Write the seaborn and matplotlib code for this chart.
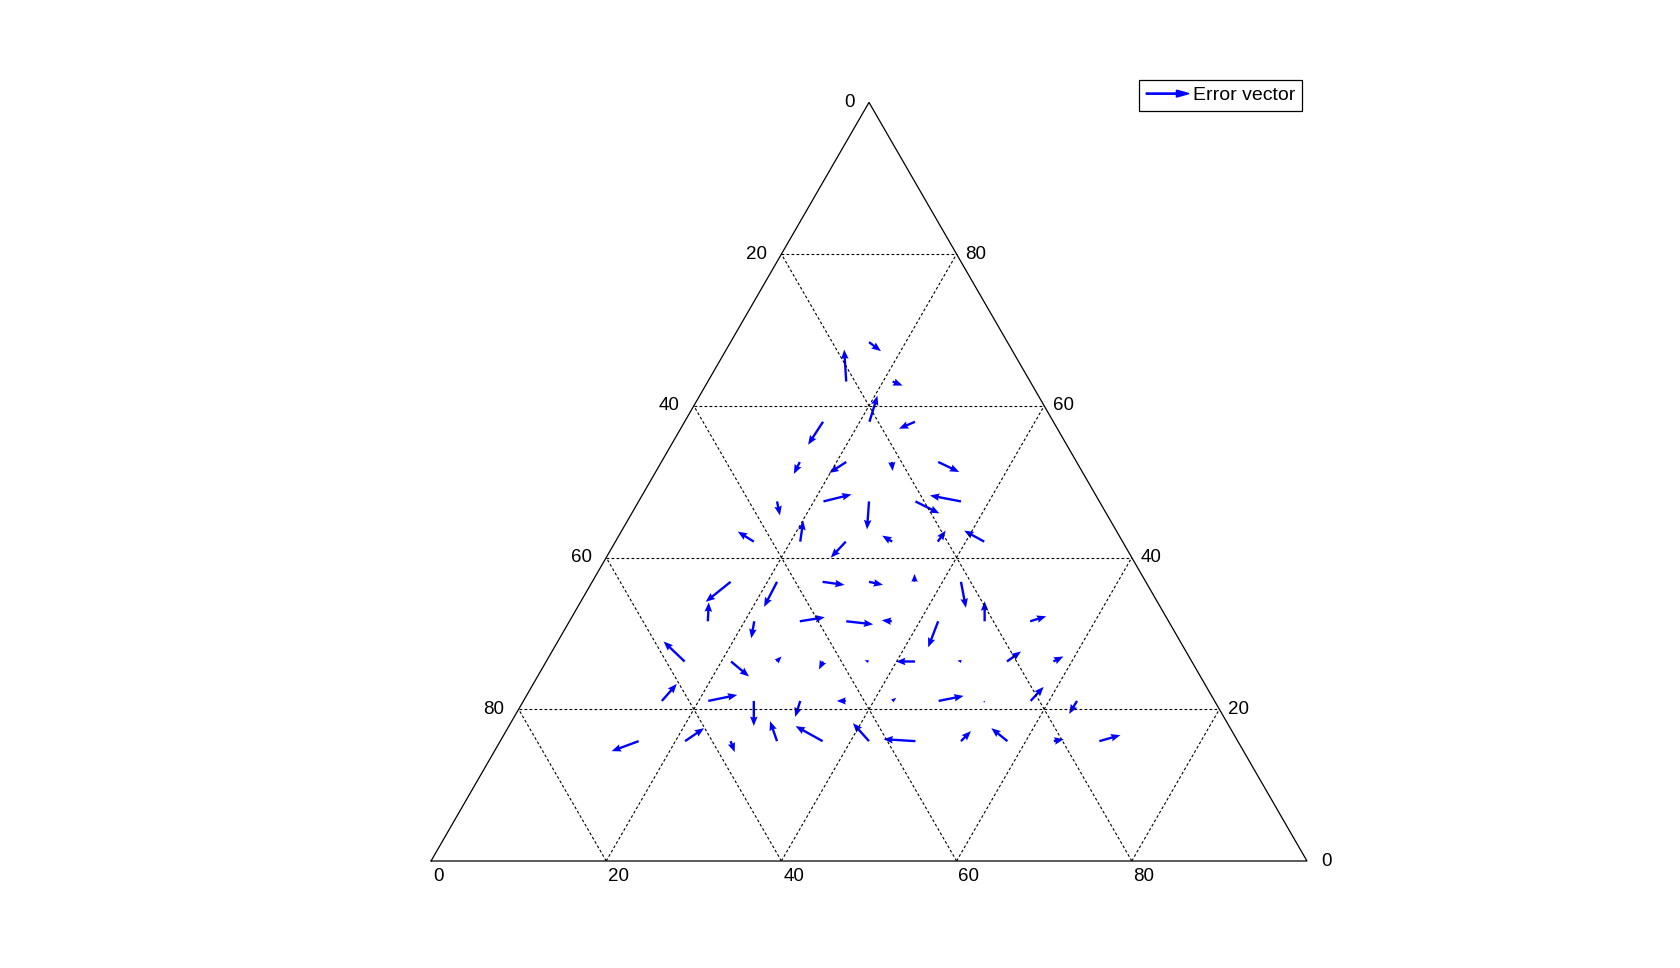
import numpy as np
import pandas as pd
import matplotlib
matplotlib.use("Agg")
import matplotlib.pyplot as plt
import seaborn as sns
from matplotlib.patches import FancyArrow
from matplotlib.legend_handler import HandlerBase
from matplotlib.lines import Line2D

# ==========================================
# Data (ternary coordinates in %)
# tail position: bottom-axis component, right-axis component
# error vector: change of those two components
# ==========================================
tail_bottom = [15.8, 15.8, 21.1, 21.1, 26.3, 15.8, 15.8, 21.1, 26.3, 31.6,
               21.1, 36.8, 31.6, 15.8, 26.3, 21.1, 31.6, 36.8, 42.1, 26.3,
               15.8, 26.3, 31.6, 36.8, 42.1, 15.8, 15.8, 21.1, 26.3, 31.6,
               36.8, 21.1, 42.1, 47.4, 52.6, 15.8, 21.1, 26.3, 31.6, 36.8,
               42.1, 47.4, 52.6, 57.9, 15.8, 21.1, 36.8, 42.1, 47.4, 31.6,
               26.3, 52.6, 57.9, 63.2, 31.6, 36.8, 42.1, 47.4, 52.6, 21.1,
               26.3, 57.9, 63.2, 68.4, 15.8]
tail_right = [63.2, 68.4, 63.2, 57.9, 57.9, 57.9, 52.6, 52.6, 52.6, 52.6,
              47.4, 47.4, 47.4, 47.4, 47.4, 42.1, 42.1, 42.1, 42.1, 42.1,
              42.1, 36.8, 36.8, 36.8, 36.8, 36.8, 31.6, 36.8, 31.6, 31.6,
              31.6, 31.6, 31.6, 31.6, 31.6, 26.3, 26.3, 26.3, 26.3, 26.3,
              26.3, 26.3, 26.3, 26.3, 21.1, 21.1, 21.1, 21.1, 21.1, 21.1,
              21.1, 21.1, 21.1, 21.1, 15.8, 15.8, 15.8, 15.8, 15.8, 15.8,
              15.8, 15.8, 15.8, 15.8, 15.8]
err_bottom = [-2.34, 1.96, 1.40, -0.80, -1.37, -0.19, 0.11, -1.21, 0.70, 3.06,
              2.74, -3.94, 3.53, 1.26, 1.62, -1.04, -1.54, 0.18, -3.01, -0.66,
              -2.49, 2.71, 1.80, -0.53, 2.28, -1.53, -1.14, 0.17, 2.59, 3.28,
              -1.21, 0.78, 0.57, -1.32, 1.50, -3.72, 3.04, 0.24, 0.07, -0.52,
              -2.17, -0.52, 0.94, 0.81, 0.59, 2.91, -1.03, 0.26, 2.52, 0.48,
              1.65, 0.13, 0.56, -0.05, -2.12, -4.07, -3.02, -3.78, 0.48, 1.31,
              1.19, -2.69, 1.01, 2.00, -2.42]
err_right = [4.22, -1.19, -0.53, 3.43, -0.92, -3.03, -1.58, -1.45, -1.19, -1.32,
             0.92, 0.79, -1.58, -1.85, -3.69, 2.77, 0.79, 1.45, 1.45, -2.11,
             1.32, -0.40, -0.40, 1.05, -3.43, -2.64, 2.50, -3.30, 0.53, -0.40,
             0.13, -2.24, -3.43, 2.64, 0.66, 2.64, -1.98, 0.66, -1.05, 0.13,
             0.00, 0.13, 1.32, 0.66, 2.24, 0.79, 0.00, 0.40, 0.66, -2.11,
             -3.30, -0.26, 1.85, -1.71, 2.64, 1.98, 2.37, 0.26, 1.32, 1.71,
             -1.45, 1.71, 0.26, 0.79, -1.32]

grid_levels = [20, 40, 60, 80]
bottom_labels = ["0", "20", "40", "60", "80"]
left_labels = ["0", "20", "40", "60", "80"]
right_labels = ["20", "40", "60", "80"]

H = np.sqrt(3) / 2


def to_xy(b, r):
    b = np.asarray(b, dtype=float) / 100
    r = np.asarray(r, dtype=float) / 100
    return b + 0.5 * r, r * H


# ==========================================
# Figure
# ==========================================
sns.set_theme(style="white")
plt.rcParams["font.family"] = ["Liberation Sans", "DejaVu Sans"]
plt.rcParams["text.color"] = "black"

fig = plt.figure(figsize=(16.8, 9.68), dpi=100)
ax = fig.add_axes([431 / 1680, 107 / 968, 876 / 1680, 758.6 / 968])
ax.set_xlim(0, 1)
ax.set_ylim(0, H)
ax.set_aspect("equal")
ax.axis("off")

# triangle outline
outline = pd.DataFrame({"x": [0, 1, 0.5, 0], "y": [0, 0, H, 0]})
sns.lineplot(data=outline, x="x", y="y", sort=False, estimator=None,
             color="black", linewidth=0.9, ax=ax, clip_on=False)

# dashed lattice
for k in grid_levels:
    f = k / 100
    ax.plot([0.5 * f, 1 - 0.5 * f], [f * H, f * H], color="black",
            linestyle=(0, (2.5, 2)), linewidth=0.8)
    ax.plot([f, f + 0.5 * (1 - f)], [0, (1 - f) * H], color="black",
            linestyle=(0, (2.5, 2)), linewidth=0.8)
    ax.plot([1 - f, 0.5 * (1 - f)], [0, (1 - f) * H], color="black",
            linestyle=(0, (2.5, 2)), linewidth=0.8)

# tick labels
fs = 13.5
for i, lab in enumerate(bottom_labels):
    ax.text(i * 0.2 + 0.002, -0.008, lab, ha="left", va="top", fontsize=fs)
ax.text(1.016, 0, "0", ha="left", va="center", fontsize=fs)
for i, lab in enumerate(left_labels):
    f = 1 - i * 0.2
    ax.text(0.5 * f - 0.016, f * H, lab, ha="right", va="center", fontsize=fs)
for i, lab in enumerate(right_labels):
    f = (i + 1) * 0.2
    ax.text(1 - 0.5 * f + 0.01, f * H, lab, ha="left", va="center", fontsize=fs)

# error vectors
X, Y = to_xy(tail_bottom, tail_right)
db = np.asarray(err_bottom) / 100
dr = np.asarray(err_right) / 100
U = db + 0.5 * dr
V = dr * H
ax.quiver(X, Y, U, V, angles="xy", scale_units="xy", scale=1, color="blue",
          width=0.0027, headwidth=3.2, headlength=4.0, headaxislength=3.6,
          minlength=0.2)


# legend with arrow handle
class ArrowHandler(HandlerBase):
    def create_artists(self, legend, orig_handle, xdescent, ydescent,
                       width, height, fontsize, trans):
        arr = FancyArrow(-xdescent, height / 2 - ydescent, width, 0,
                         width=0.9, head_width=5, head_length=9,
                         length_includes_head=True, color="blue",
                         transform=trans)
        return [arr]


handle = Line2D([], [], color="blue")
leg = ax.legend([handle], ["Error vector"], handler_map={Line2D: ArrowHandler()},
                loc="upper right", bbox_to_anchor=(1302 / 1680, 1 - 80 / 968),
                bbox_transform=fig.transFigure, fontsize=14, frameon=True,
                fancybox=False, edgecolor="black", framealpha=1,
                handlelength=2.2, handletextpad=0.2, borderpad=0.35,
                borderaxespad=0)
leg.get_frame().set_linewidth(0.9)

fig.savefig("out.png", dpi=100, facecolor="white")
